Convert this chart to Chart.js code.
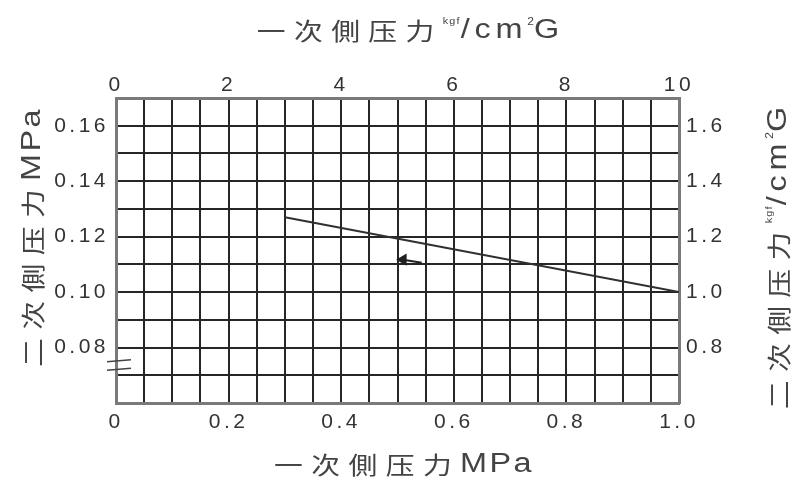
<!DOCTYPE html>
<html>
<head>
<meta charset="utf-8">
<script src="https://cdn.jsdelivr.net/npm/chart.js@4"></script>
<style>
  body { margin: 0; background: #fff; }
  #wrap { width: 809px; height: 485px; }
</style>
</head>
<body>
<div id="wrap"><canvas id="myChart"></canvas></div>
<script>
// 曲线数据 (一次側压力 MPa -> 二次側压力 MPa)
const lineX = [0.30, 1.00];
const lineY = [0.127, 0.100];
// 箭头
const arrowX = [0.510, 0.543];
const arrowY = [0.1117, 0.1106];

const bottomLabels = ['0', '0.2', '0.4', '0.6', '0.8', '1.0'];
const topLabels = ['0', '2', '4', '6', '8', '10'];
const leftLabels = ['0.08', '0.10', '0.12', '0.14', '0.16'];
const rightLabels = ['0.8', '1.0', '1.2', '1.4', '1.6'];

const cjk = '"Noto Sans CJK SC"';
const lat = '"Liberation Sans"';
const txtColor = '#444';

// 文字横向略拉伸, 与原图一致
function drawParts(ctx, parts, cx, cy, rot) {
    ctx.save();
    ctx.translate(cx, cy);
    if (rot) ctx.rotate(rot);
    ctx.scale(1.2, 1);
    ctx.textBaseline = 'middle';
    ctx.textAlign = 'left';
    ctx.fillStyle = txtColor;
    let w = 0;
    parts.forEach(p => {
        ctx.font = p.f;
        ctx.letterSpacing = p.ls || '0px';
        p.w = ctx.measureText(p.t).width;
        w += p.w;
    });
    let x = -w / 2;
    parts.forEach(p => {
        ctx.font = p.f;
        ctx.letterSpacing = p.ls || '0px';
        ctx.fillText(p.t, x, p.dy || 0);
        x += p.w;
    });
    ctx.restore();
}

function kgfTitle(first) {
    return [
        {t: first, f: '24px ' + cjk, ls: '7px'},
        {t: 'kgf', f: '9px ' + lat, ls: '1px', dy: -9},
        {t: '/cm', f: '27px ' + lat, ls: '4px'},
        {t: '2', f: '10px ' + lat, dy: -9},
        {t: 'G', f: '27px ' + lat}
    ];
}

function mpaTitle(first) {
    return [
        {t: first, f: '24px ' + cjk, ls: '7px'},
        {t: 'MPa', f: '27px ' + lat, ls: '2px'}
    ];
}

const titles = {
    id: 'titles',
    beforeDraw(chart) {
        chart.ctx.letterSpacing = '3.5px';
    },
    afterDraw(chart) {
        const ctx = chart.ctx;
        drawParts(ctx, kgfTitle('一次側压力'), 408, 31, 0);
        drawParts(ctx, mpaTitle('一次側压力'), 404, 465, 0);
        drawParts(ctx, mpaTitle('二次側压力'), 33, 237, -Math.PI / 2);
        drawParts(ctx, kgfTitle('二次側压力'), 779, 258, -Math.PI / 2);

        // 纵轴断开符号
        const ys = chart.scales.y;
        const xl = chart.chartArea.left;
        ctx.save();
        ctx.strokeStyle = '#444';
        ctx.lineWidth = 1.5;
        [0.0752, 0.0722].forEach(v => {
            const py = ys.getPixelForValue(v);
            ctx.beginPath();
            ctx.moveTo(xl - 9, py + 1);
            ctx.lineTo(xl + 15, py - 1);
            ctx.stroke();
        });
        ctx.restore();
    }
};

function fit(size) {
    return function (scale) {
        if (scale.isHorizontal()) scale.height = size; else scale.width = size;
    };
}

const tickFont = {family: 'Liberation Sans', size: 21};
const gridStyle = {color: '#262626', lineWidth: 2, drawTicks: false};
const borderStyle = {color: '#7a7a7a', width: 3};

new Chart(document.getElementById('myChart'), {
    type: 'scatter',
    data: {
        datasets: [{
            data: lineX.map((x, i) => ({x: x, y: lineY[i]})),
            showLine: true,
            borderColor: '#303030',
            borderWidth: 2,
            pointRadius: 0
        }, {
            data: arrowX.map((x, i) => ({x: x, y: arrowY[i]})),
            showLine: true,
            borderColor: '#202020',
            backgroundColor: '#202020',
            borderWidth: 2,
            pointStyle: 'triangle',
            rotation: -90,
            pointRadius: [5, 0]
        }]
    },
    options: {
        responsive: true,
        maintainAspectRatio: false,
        animation: false,
        layout: {padding: 0},
        plugins: {legend: {display: false}, tooltip: {enabled: false}},
        scales: {
            x: {
                type: 'linear', position: 'bottom', min: 0, max: 1,
                afterFit: fit(82),
                grid: gridStyle, border: borderStyle,
                ticks: {
                    stepSize: 0.05, autoSkip: false, maxRotation: 0, padding: 7,
                    font: tickFont, color: '#333',
                    callback: v => { const k = Math.round(v * 20); return k % 4 === 0 ? bottomLabels[k / 4] : ''; }
                }
            },
            x2: {
                type: 'linear', position: 'top', min: 0, max: 10,
                afterFit: fit(98),
                grid: {display: false, drawTicks: false}, border: borderStyle,
                ticks: {
                    stepSize: 0.5, autoSkip: false, maxRotation: 0, padding: 0,
                    font: tickFont, color: '#333',
                    callback: v => { const k = Math.round(v * 2); return k % 4 === 0 ? topLabels[k / 4] : ''; }
                }
            },
            y: {
                type: 'linear', position: 'left', min: 0.06, max: 0.17,
                afterFit: fit(116),
                grid: gridStyle, border: borderStyle,
                ticks: {
                    stepSize: 0.01, autoSkip: false, padding: 7,
                    font: tickFont, color: '#333',
                    callback: v => { const k = Math.round(v * 100); return (k >= 8 && k <= 16 && k % 2 === 0) ? leftLabels[(k - 8) / 2] : ''; }
                }
            },
            y2: {
                type: 'linear', position: 'right', min: 0.6, max: 1.7,
                afterFit: fit(130),
                grid: {display: false, drawTicks: false}, border: borderStyle,
                ticks: {
                    stepSize: 0.1, autoSkip: false, padding: 7,
                    font: tickFont, color: '#333',
                    callback: v => { const k = Math.round(v * 10); return (k >= 8 && k <= 16 && k % 2 === 0) ? rightLabels[(k - 8) / 2] : ''; }
                }
            }
        }
    },
    plugins: [titles]
});
</script>
</body>
</html>
